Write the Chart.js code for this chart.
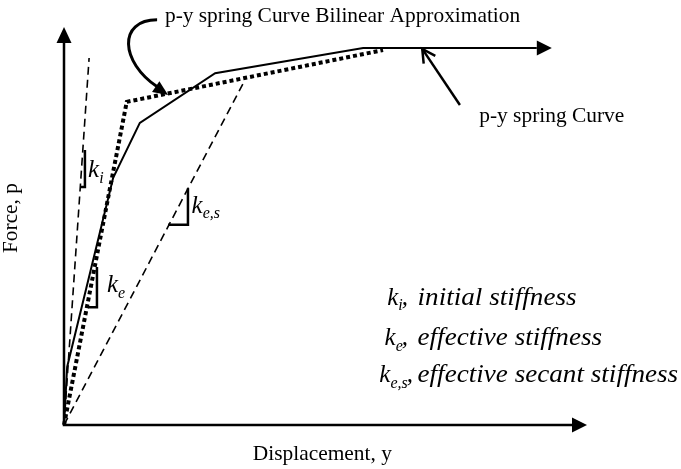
<!DOCTYPE html>
<html>
<head>
<meta charset="utf-8">
<script src="https://cdn.jsdelivr.net/npm/chart.js@4/dist/chart.umd.min.js"></script>
<style>
  html, body { margin: 0; padding: 0; background: #fff; }
  #wrap { width: 681px; height: 469px; }
</style>
</head>
<body>
<div id="wrap"><canvas id="py-chart"></canvas></div>
<script>
// p-y spring curve (displacement, force) in arbitrary units, 0..100
const curveDisp = [0, 0.6, 9.4, 14.5, 28.9, 57.2, 90.4];
const curveForce = [0, 14.6, 62.1, 75.9, 88.4, 94.7, 94.7];

// bilinear approximation
const bilinDisp = [0, 12.0, 61.0];
const bilinForce = [0, 81.2, 94.2];

// stiffness lines from the origin
const kiDisp = [0, 4.8];
const kiForce = [0, 92.2];
const kesDisp = [0, 34.6];
const kesForce = [0, 86.7];

// little slope triangles
const kiTickDisp = [3.1, 4.0, 4.0];
const kiTickForce = [59.8, 59.8, 69.1];
const keTickDisp = [4.6, 6.3, 6.3];
const keTickForce = [29.6, 29.6, 39.7];
const kesTickDisp = [19.9, 23.7, 23.7];
const kesTickForce = [50.3, 50.3, 59.5];

const legendLines = [
    { sub: 'i', text: 'initial stiffness' },
    { sub: 'e', text: 'effective stiffness' },
    { sub: 'e,s', text: 'effective secant stiffness' }
];

function pts(xs, ys) {
    return xs.map((x, i) => ({ x: x, y: ys[i] }));
}

function lineSet(xs, ys, width, dash) {
    return {
        data: pts(xs, ys),
        showLine: true,
        borderColor: '#000',
        borderWidth: width,
        borderDash: dash || [],
        pointRadius: 0,
        fill: false,
        clip: false,
        borderCapStyle: 'butt',
        borderJoinStyle: 'miter'
    };
}

const SERIF = '"Liberation Serif", "Times New Roman", serif';

function arrowHead(ctx, fromX, fromY, tipX, tipY, len, half, open) {
    const a = Math.atan2(tipY - fromY, tipX - fromX);
    const bx = tipX - len * Math.cos(a), by = tipY - len * Math.sin(a);
    const px = -Math.sin(a) * half, py = Math.cos(a) * half;
    ctx.beginPath();
    if (open) {
        ctx.moveTo(bx + px, by + py);
        ctx.lineTo(tipX, tipY);
        ctx.lineTo(bx - px, by - py);
        ctx.stroke();
    } else {
        ctx.moveTo(tipX, tipY);
        ctx.lineTo(bx + px, by + py);
        ctx.lineTo(bx - px, by - py);
        ctx.closePath();
        ctx.fill();
    }
}

// k with subscript, returns x after it
function drawK(ctx, x, y, sub, size) {
    ctx.font = 'italic ' + size + 'px ' + SERIF;
    ctx.fillText('k', x, y);
    const w = ctx.measureText('k').width;
    ctx.font = 'italic ' + Math.round(size * 0.62) + 'px ' + SERIF;
    ctx.fillText(sub, x + w, y + size * 0.22);
    return x + w + ctx.measureText(sub).width;
}

const sketchPlugin = {
    id: 'sketch',
    afterDatasetsDraw(chart) {
        const ctx = chart.ctx;
        const sx = chart.scales.x, sy = chart.scales.y;
        const P = (x, y) => [sx.getPixelForValue(x), sy.getPixelForValue(y)];
        ctx.save();
        ctx.fillStyle = '#000';
        ctx.strokeStyle = '#000';
        ctx.lineCap = 'butt';

        // axes with arrows
        const o = P(0, 0), xe = P(100, 0), ye = P(0, 100);
        ctx.lineWidth = 2.5;
        ctx.beginPath();
        ctx.moveTo(xe[0] - 14, o[1]);
        ctx.lineTo(o[0], o[1]);
        ctx.lineTo(o[0], ye[1] + 14);
        ctx.stroke();
        arrowHead(ctx, o[0], o[1], xe[0], xe[1], 15, 7.5);
        arrowHead(ctx, o[0], o[1], ye[0], ye[1], 16, 7.5);

        // arrow at the end of the spring curve
        const n = curveDisp.length;
        const c1 = P(curveDisp[n - 2], curveForce[n - 2]);
        const c2 = P(curveDisp[n - 1], curveForce[n - 1]);
        arrowHead(ctx, c1[0], c1[1], c2[0] + 15, c2[1], 15, 7.5);

        // curved pointer to the bilinear line
        const b0 = P(17.8, 101.8), b1 = P(10.3, 101.8), b2 = P(10.7, 91.2), b3 = P(17.9, 84.9), bt = P(19.9, 82.9);
        ctx.lineWidth = 3;
        ctx.beginPath();
        ctx.moveTo(b0[0], b0[1]);
        ctx.bezierCurveTo(b1[0], b1[1], b2[0], b2[1], b3[0], b3[1]);
        ctx.stroke();
        arrowHead(ctx, b2[0], b2[1], bt[0], bt[1], 15, 6.5);

        // straight pointer to the spring curve
        const p0 = P(75.7, 80.4), p1 = P(68.5, 94.5);
        ctx.lineWidth = 2.5;
        ctx.beginPath();
        ctx.moveTo(p0[0], p0[1]);
        ctx.lineTo(p1[0], p1[1]);
        ctx.stroke();
        arrowHead(ctx, p0[0], p0[1], p1[0], p1[1], 13, 7, true);

        // captions
        ctx.textBaseline = 'alphabetic';
        ctx.textAlign = 'left';
        ctx.font = '21.4px ' + SERIF;
        let t = P(19.3, 101.3);
        ctx.fillText('p-y spring Curve Bilinear Approximation', t[0], t[1]);
        t = P(79.4, 76.1);
        ctx.fillText('p-y spring Curve', t[0], t[1]);

        ctx.textAlign = 'center';
        t = P(49.4, -8.8);
        ctx.fillText('Displacement, y', t[0], t[1]);
        t = P(-9.0, 52.0);
        ctx.save();
        ctx.translate(t[0], t[1]);
        ctx.rotate(-Math.PI / 2);
        ctx.fillText('Force, p', 0, 0);
        ctx.restore();
        ctx.textAlign = 'left';

        // slope labels
        t = P(4.6, 62.3);
        drawK(ctx, t[0], t[1], 'i', 25);
        t = P(8.2, 33.4);
        drawK(ctx, t[0], t[1], 'e', 25);
        t = P(24.4, 53.3);
        drawK(ctx, t[0], t[1], 'e,s', 25);

        // legend (descriptions set a little wide)
        const rows = [[61.8, 30.2], [61.3, 20.1], [60.3, 10.8]];
        legendLines.forEach((l, i) => {
            const p = P(rows[i][0], rows[i][1]);
            const end = drawK(ctx, p[0], p[1], l.sub, 25);
            ctx.font = 'italic 25px ' + SERIF;
            ctx.fillText(',', end - 1, p[1]);
            const s = P(67.6, 0);
            ctx.save();
            ctx.translate(s[0], p[1]);
            ctx.scale(1.085, 1);
            ctx.fillText(l.text, 0, 0);
            ctx.restore();
        });
        ctx.restore();
    }
};

new Chart(document.getElementById('py-chart'), {
    type: 'scatter',
    data: {
        datasets: [
            lineSet(kiDisp, kiForce, 1.6, [8, 5]),
            lineSet(kesDisp, kesForce, 1.6, [8, 5]),
            lineSet(curveDisp, curveForce, 2),
            lineSet(bilinDisp, bilinForce, 4, [4, 3]),
            lineSet(kiTickDisp, kiTickForce, 2.5),
            lineSet(keTickDisp, keTickForce, 2.5),
            lineSet(kesTickDisp, kesTickForce, 2.5)
        ]
    },
    options: {
        responsive: true,
        maintainAspectRatio: false,
        animation: false,
        layout: { padding: { left: 64, right: 94, top: 27, bottom: 44 } },
        plugins: { legend: { display: false }, tooltip: { enabled: false } },
        scales: {
            x: { type: 'linear', min: 0, max: 100, display: false },
            y: { type: 'linear', min: 0, max: 100, display: false }
        }
    },
    plugins: [sketchPlugin]
});
</script>
</body>
</html>
